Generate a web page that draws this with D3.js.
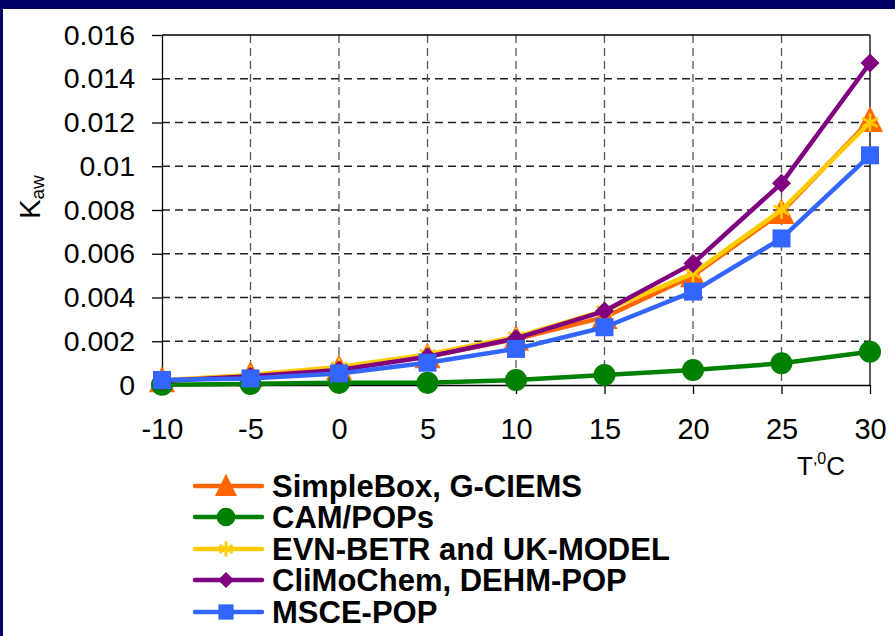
<!DOCTYPE html>
<html>
<head>
<meta charset="utf-8">
<script src="https://cdn.jsdelivr.net/npm/d3@7"></script>
<style>
    body { margin: 0; background: #000066; }
    svg { display: block; }
    text { font-family: "Liberation Sans", Arial, sans-serif; fill: #000; }
</style>
</head>
<body>
<script>
// temperature, deg C
const temps = [-10, -5, 0, 5, 10, 15, 20, 25, 30];
// Kaw per model group
const simpleBox = [0.0002, 0.00044, 0.00075, 0.0013, 0.0021, 0.0031, 0.0050, 0.0079, 0.0121];
const camPops = [0.00001, 0.00005, 0.0001, 0.0001, 0.00023, 0.00046, 0.00069, 0.00099, 0.00152];
const evnBetr = [0.00022, 0.00046, 0.00082, 0.0014, 0.0022, 0.0034, 0.0051, 0.0080, 0.0120];
const cliMoChem = [0.00018, 0.0004, 0.00069, 0.00129, 0.00213, 0.00338, 0.00556, 0.00922, 0.01472];
const mscePop = [0.00023, 0.0003, 0.00053, 0.00102, 0.00165, 0.00264, 0.00427, 0.0067, 0.0105];

const yTicks = [0, 0.002, 0.004, 0.006, 0.008, 0.01, 0.012, 0.014, 0.016];
const seriesNames = ["SimpleBox, G-CIEMS", "CAM/POPs", "EVN-BETR and UK-MODEL", "CliMoChem, DEHM-POP", "MSCE-POP"];

const series = [
    { name: seriesNames[0], values: simpleBox, color: "#ff6600", marker: "triangle" },
    { name: seriesNames[1], values: camPops, color: "#008000", marker: "circle" },
    { name: seriesNames[2], values: evnBetr, color: "#ffcc00", marker: "star" },
    { name: seriesNames[3], values: cliMoChem, color: "#800080", marker: "diamond" },
    { name: seriesNames[4], values: mscePop, color: "#3366ff", marker: "square" }
];

const W = 895, H = 636;
const plot = { left: 162, top: 35, right: 870, bottom: 385 };

let svg = d3.select("body").append("svg")
    .attr("width", W)
    .attr("height", H);

// navy frame: white panel sits inside it
svg.append("rect")
    .attr("x", 3).attr("y", 9)
    .attr("width", W - 3).attr("height", H - 9)
    .attr("fill", "#fff");

let xScale = d3.scaleLinear().domain([-10, 30]).range([plot.left, plot.right]);
let yScale = d3.scaleLinear().domain([0, 0.016]).range([plot.bottom, plot.top]);

// dashed grid
svg.append("g").selectAll("line")
    .data(yTicks.slice(1, -1))
    .join("line")
    .attr("x1", plot.left).attr("x2", plot.right)
    .attr("y1", d => yScale(d)).attr("y2", d => yScale(d))
    .attr("stroke", "#222").attr("stroke-width", 1.3)
    .attr("stroke-dasharray", "8,5");

svg.append("g").selectAll("line")
    .data(temps.slice(1, -1))
    .join("line")
    .attr("x1", d => xScale(d)).attr("x2", d => xScale(d))
    .attr("y1", plot.top).attr("y2", plot.bottom)
    .attr("stroke", "#555").attr("stroke-width", 1.3)
    .attr("stroke-dasharray", "8,5");

// box top and right
svg.append("line")
    .attr("x1", plot.left).attr("x2", plot.right)
    .attr("y1", plot.top).attr("y2", plot.top)
    .attr("stroke", "#000").attr("stroke-width", 1.3);
svg.append("line")
    .attr("x1", plot.right).attr("x2", plot.right)
    .attr("y1", plot.top).attr("y2", plot.bottom)
    .attr("stroke", "#000").attr("stroke-width", 1.3);

// axes
let yAxis = svg.append("g")
    .attr("transform", "translate(" + plot.left + ",0)")
    .call(d3.axisLeft(yScale)
        .tickValues(yTicks)
        .tickFormat(d => d === 0 ? "0" : String(+d.toFixed(3)))
        .tickSize(10).tickSizeOuter(0).tickPadding(17));

let xAxis = svg.append("g")
    .attr("transform", "translate(0," + plot.bottom + ")")
    .call(d3.axisBottom(xScale)
        .tickValues(temps)
        .tickFormat(d => String(d))
        .tickSize(9).tickSizeOuter(0).tickPadding(24));

[yAxis, xAxis].forEach(g => {
    g.selectAll("path, line").attr("stroke", "#000").attr("stroke-width", 1.3);
    g.selectAll("text")
        .style("font-family", "'Liberation Sans', Arial, sans-serif")
        .style("font-size", "28.5px")
        .attr("fill", "#000");
});
xAxis.selectAll("text").style("font-size", "29px");

// axis titles
let yTitle = svg.append("text")
    .attr("transform", "translate(40,197) rotate(-90)")
    .attr("text-anchor", "middle")
    .style("font-size", "29px");
yTitle.append("tspan").text("K");
yTitle.append("tspan").attr("dy", 4).style("font-size", "19px").text("aw");

let xTitle = svg.append("text")
    .attr("x", 797).attr("y", 475)
    .style("font-size", "26px");
xTitle.append("tspan").text("T");
xTitle.append("tspan").attr("dy", -11).style("font-size", "16px").text(",0");
xTitle.append("tspan").attr("dy", 11).text("C");

// markers
function drawMarker(g, type, color, x, y, s) {
    if (type === "triangle") {
        g.append("path")
            .attr("d", "M" + x + "," + (y - s * 0.55) + "L" + (x + s * 0.5) + "," + (y + s * 0.45) + "L" + (x - s * 0.5) + "," + (y + s * 0.45) + "Z")
            .attr("fill", color);
    } else if (type === "circle") {
        g.append("circle").attr("cx", x).attr("cy", y).attr("r", s / 2).attr("fill", color);
    } else if (type === "square") {
        g.append("rect").attr("x", x - s / 2).attr("y", y - s / 2)
            .attr("width", s).attr("height", s).attr("fill", color);
    } else if (type === "diamond") {
        g.append("path")
            .attr("d", "M" + x + "," + (y - s / 2) + "L" + (x + s / 2) + "," + y + "L" + x + "," + (y + s / 2) + "L" + (x - s / 2) + "," + y + "Z")
            .attr("fill", color);
    } else if (type === "star") {
        let r = s / 2, dx = r * 0.87, dy = r * 0.5;
        g.append("path")
            .attr("d", "M" + x + "," + (y - r) + "V" + (y + r) +
                "M" + (x - dx) + "," + (y - dy) + "L" + (x + dx) + "," + (y + dy) +
                "M" + (x - dx) + "," + (y + dy) + "L" + (x + dx) + "," + (y - dy))
            .attr("stroke", color).attr("stroke-width", 2.6).attr("fill", "none");
    }
}

const markerSize = { triangle: 26, circle: 22, star: 18, diamond: 19, square: 18 };

let line = d3.line()
    .x((d, i) => xScale(temps[i]))
    .y(d => yScale(d));

series.forEach(s => {
    let g = svg.append("g");
    g.append("path")
        .datum(s.values)
        .attr("d", line)
        .attr("fill", "none")
        .attr("stroke", s.color)
        .attr("stroke-width", 4.5)
        .attr("stroke-linejoin", "round");
    s.values.forEach((v, i) => drawMarker(g, s.marker, s.color, xScale(temps[i]), yScale(v), markerSize[s.marker]));
});

// legend
const legendBaselines = [497, 528, 560, 591, 623];
series.forEach((s, i) => {
    let g = svg.append("g");
    let ly = legendBaselines[i] - 11;
    g.append("line")
        .attr("x1", 195).attr("x2", 262)
        .attr("y1", ly).attr("y2", ly)
        .attr("stroke", s.color).attr("stroke-width", 4.5)
        .attr("stroke-linecap", "round");
    drawMarker(g, s.marker, s.color, 226, ly, markerSize[s.marker] * 0.85);
    g.append("text")
        .attr("x", 272).attr("y", legendBaselines[i])
        .style("font-size", "31px").style("font-weight", "bold")
        .text(s.name);
});
</script>
</body>
</html>
